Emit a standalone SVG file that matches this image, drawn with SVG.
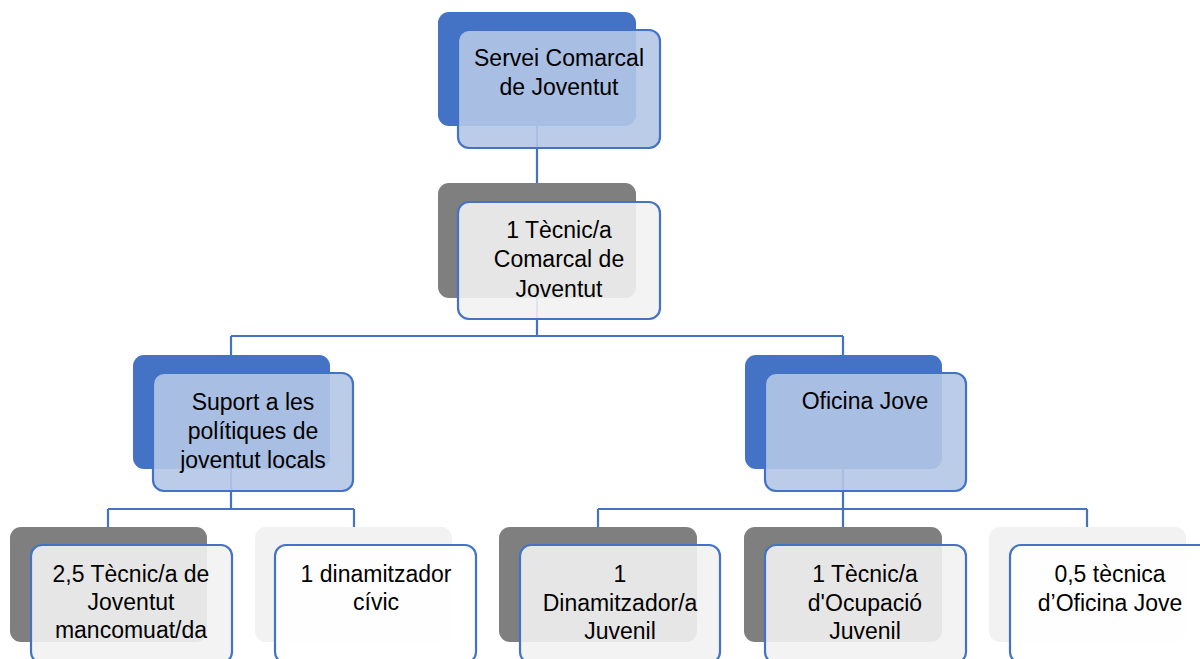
<svg xmlns="http://www.w3.org/2000/svg" width="1200" height="659" viewBox="0 0 1200 659">
<style>
.conn{fill:none;stroke:#4472C4;stroke-width:2.2}
.bb{fill:#4472C4}
.bg{fill:#7F7F7F}
.bl{fill:#F2F2F2}
.fb{fill:#B4C7E7;fill-opacity:0.9;stroke:#4472C4;stroke-width:2.2}
.fg{fill:#F2F2F2;fill-opacity:0.9;stroke:#4472C4;stroke-width:2.2}
.fw{fill:#FFFFFF;fill-opacity:0.9;stroke:#4472C4;stroke-width:2.2}
text{font-family:"Liberation Sans",Arial,sans-serif;font-size:23px;fill:#000;text-anchor:middle}
</style>
<rect width="1200" height="659" fill="#fff"/>
<g id="connectors">
<path class="conn" d="M537,126 V183"/>
<path class="conn" d="M537,298 V336 M231,336 H843 M231,336 V355 M843,336 V355"/>
<path class="conn" d="M231,469 V509 M108,509 H354 M108,509 V527 M354,509 V527"/>
<path class="conn" d="M843,469 V527 M598,509 H1087 M598,509 V527 M1087,509 V527"/>
</g>
<g id="n1">
<rect class="bb" x="438" y="12" width="198" height="114" rx="11"/>
<rect class="fb" x="458" y="30" width="202" height="118" rx="11"/>
<text x="559" y="66">Servei Comarcal</text>
<text x="559" y="95">de Joventut</text>
</g>
<g id="n2">
<rect class="bg" x="438" y="183" width="198" height="115" rx="11"/>
<rect class="fg" x="458" y="202" width="202" height="117" rx="11"/>
<text x="559" y="238">1 Tècnic/a</text>
<text x="559" y="267">Comarcal de</text>
<text x="559" y="297">Joventut</text>
</g>
<g id="n3">
<rect class="bb" x="133" y="355" width="197" height="114" rx="11"/>
<rect class="fb" x="153" y="373" width="200" height="118" rx="11"/>
<text x="253" y="410">Suport a les</text>
<text x="253" y="439">polítiques de</text>
<text x="253" y="468">joventut locals</text>
</g>
<g id="n4">
<rect class="bb" x="745" y="355" width="197" height="114" rx="11"/>
<rect class="fb" x="765" y="373" width="201" height="118" rx="11"/>
<text x="865" y="409">Oficina Jove</text>
</g>
<g id="n5">
<rect class="bg" x="10" y="527" width="197" height="115" rx="11"/>
<rect class="fg" x="31" y="545" width="201" height="118" rx="11"/>
<text x="131" y="582">2,5 Tècnic/a de</text>
<text x="131" y="610">Joventut</text>
<text x="131" y="638">mancomuat/da</text>
</g>
<g id="n6">
<rect class="bl" x="255" y="527" width="197" height="115" rx="11"/>
<rect class="fw" x="275" y="545" width="201" height="118" rx="11"/>
<text x="376" y="582">1 dinamitzador</text>
<text x="376" y="610">cívic</text>
</g>
<g id="n7">
<rect class="bg" x="499" y="527" width="198" height="115" rx="11"/>
<rect class="fg" x="520" y="545" width="200" height="118" rx="11"/>
<text x="620" y="582">1</text>
<text x="620" y="611">Dinamitzador/a</text>
<text x="620" y="639">Juvenil</text>
</g>
<g id="n8">
<rect class="bg" x="744" y="527" width="198" height="115" rx="11"/>
<rect class="fg" x="765" y="545" width="201" height="118" rx="11"/>
<text x="865" y="582">1 Tècnic/a</text>
<text x="865" y="611">d'Ocupació</text>
<text x="865" y="639">Juvenil</text>
</g>
<g id="n9">
<rect class="bl" x="989" y="527" width="197" height="115" rx="11"/>
<rect class="fw" x="1010" y="545" width="201" height="118" rx="11"/>
<text x="1110" y="582">0,5 tècnica</text>
<text x="1110" y="611">d’Oficina Jove</text>
</g>
</svg>
